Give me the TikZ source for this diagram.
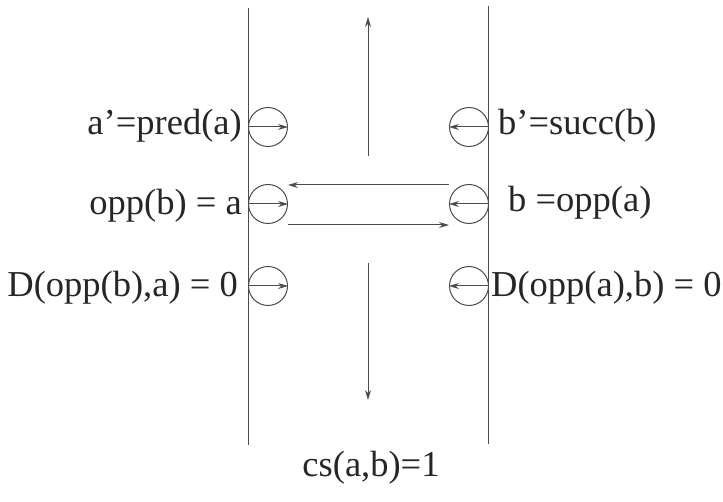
\documentclass[tikz,border=0pt]{standalone}
\usepackage{fontspec}
\setmainfont{Liberation Serif}
\usetikzlibrary{arrows.meta}
\begin{document}
\begin{tikzpicture}[x=1pt,y=-1pt,
  ln/.style={draw=black!70,line width=1pt},
  circ/.style={circle,draw=black!70,line width=1pt,minimum size=39pt,inner sep=0pt},
  arr/.style={ln,-{Stealth[length=10pt,width=6pt]}},
  lbl/.style={text=black!85,font=\fontsize{36.5}{40}\selectfont,inner sep=0pt}]
\useasboundingbox (0,0) rectangle (723,502);
% vertical lines
\coordinate (LT) at (248.5,8);
\coordinate (LB) at (248.5,445);
\coordinate (RT) at (488.5,6);
\coordinate (RB) at (488.5,444);
\draw[ln] (LT) -- (LB);
\draw[ln] (RT) -- (RB);
% circles
\node[circ] (L1) at (268,127) {};
\node[circ] (L2) at (268,204) {};
\node[circ] (L3) at (268,286) {};
\node[circ] (R1) at (469,127) {};
\node[circ] (R2) at (469,204) {};
\node[circ] (R3) at (469,286) {};
\foreach \n in {L1,L2,L3}{\draw[arr] (\n.west) -- (\n.east);}
\foreach \n in {R1,R2,R3}{\draw[arr] (\n.east) -- (\n.west);}
% horizontal arrows
\draw[arr] ([yshift=19pt]R2.west) -- ([yshift=19pt]L2.east);
\draw[arr] ([yshift=-21pt]L2.east) -- ([yshift=-21pt]R2.west);
% vertical arrows
\coordinate (U0) at (368,156);
\coordinate (U1) at (368,17);
\coordinate (D0) at (368,263);
\coordinate (D1) at (368,400);
\draw[arr] (U0) -- (U1);
\draw[arr] (D0) -- (D1);
% labels
\node[lbl,anchor=base east] (ta) at (242,135) {a’=pred(a)};
\node[lbl,anchor=base east] (tb) at (242,215) {opp(b) = a};
\node[lbl,anchor=base east] (tc) at (238,297) {D(opp(b),a) = 0};
\node[lbl,anchor=base west] (td) at (498,135) {b’=succ(b)};
\node[lbl,anchor=base west] (te) at (508,212) {b =opp(a)};
\node[lbl,anchor=base west] (tf) at (491,297) {D(opp(a),b) = 0};
\node[lbl,anchor=base] (tg) at (371,476) {cs(a,b)=1};
\end{tikzpicture}
\end{document}
